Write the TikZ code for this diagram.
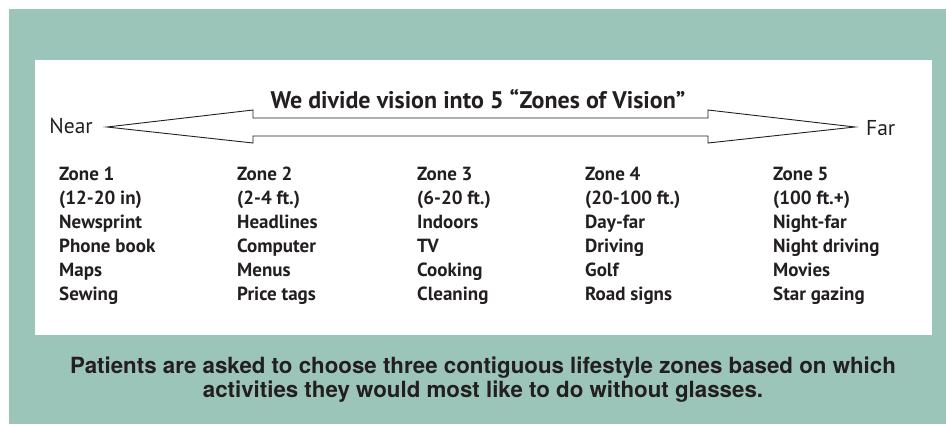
\documentclass[tikz,border=0pt]{standalone}
\usepackage{fontspec}
\setmainfont{PT Sans}
\newfontfamily\heros{TeX Gyre Heros}
\definecolor{teal}{RGB}{155,197,184}
\definecolor{ink}{RGB}{35,31,32}
\begin{document}
\begin{tikzpicture}[x=1pt,y=-1pt,
  zone/.style={anchor=north west,align=left,font=\fontsize{19}{24}\selectfont\bfseries,text=ink,inner sep=0pt},
  endlabel/.style={font=\fontsize{21.5}{24}\selectfont,text=ink,inner sep=0pt},
  bigarrow/.style={draw=ink,fill=white,line width=0.9pt,line join=miter}]
\useasboundingbox (0,0) rectangle (946,424);
\fill[white] (0,0) rectangle (946,424);
\fill[teal] (9,9) rectangle (946,424);
\fill[white] (35,60) rectangle (932,335);
% title
\node[font=\fontsize{24}{26}\selectfont\bfseries,text=ink,inner sep=0pt] (title) at (478,99) {We divide vision into 5 “Zones of Vision”};
% end labels
\node[endlabel,anchor=east] (near) at (93,126) {Near};
\node[endlabel,anchor=west] (far) at (866,128) {Far};
\coordinate (ltip) at (107,127);
\coordinate (rtip) at (855,127);
\draw[bigarrow] (ltip) -- (253,110) -- (253,118) -- (708,118) -- (708,110) -- (rtip) -- (708,143) -- (708,136) -- (253,136) -- (253,143) -- cycle;
% zones
\node[zone] (z1) at (59,167) {Zone 1\\(12-20 in)\\Newsprint\\Phone book\\Maps\\Sewing};
\node[zone] (z2) at (237,167) {Zone 2\\(2-4 ft.)\\Headlines\\Computer\\Menus\\Price tags};
\node[zone] (z3) at (417,167) {Zone 3\\(6-20 ft.)\\Indoors\\TV\\Cooking\\Cleaning};
\node[zone] (z4) at (585,167) {Zone 4\\(20-100 ft.)\\Day-far\\Driving\\Golf\\Road signs};
\node[zone] (z5) at (773,167) {Zone 5\\(100 ft.+)\\Night-far\\Night driving\\Movies\\Star gazing};
% caption
\node[inner sep=0pt,text=ink,align=center,font=\heros\bfseries\fontsize{22.3}{24}\selectfont] (cap) at (483,379.5) {Patients are asked to choose three contiguous lifestyle zones based on which\\activities they would most like to do without glasses.};
\end{tikzpicture}
\end{document}
